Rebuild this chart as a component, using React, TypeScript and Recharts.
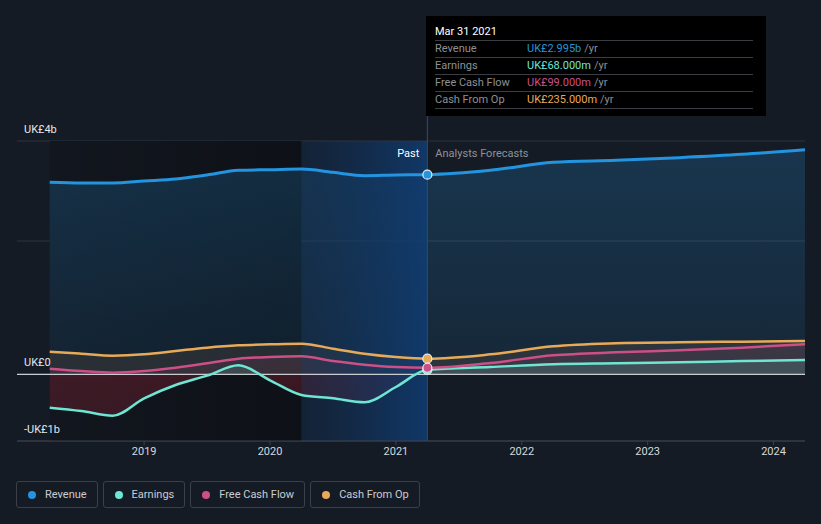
import React from 'react';
import {
  ComposedChart, Area, Line, XAxis, YAxis, CartesianGrid, ReferenceArea, ReferenceLine,
} from 'recharts';

// dates as decimal years, quarterly in the past, forecasts after Mar 2021
const dates = [
  2018.25, 2018.5, 2018.75, 2019, 2019.25, 2019.5, 2019.75, 2020, 2020.25, 2020.5, 2020.75, 2021, 2021.25,
  2021.75, 2022.25, 2022.75, 2023.25, 2023.75, 2024.25,
];
// values in UK£ billions
const revenue = [
  2.88, 2.87, 2.87, 2.9, 2.93, 2.99, 3.06, 3.07, 3.08, 3.03, 2.98, 2.99, 2.995,
  3.06, 3.18, 3.21, 3.25, 3.3, 3.37,
];
const earnings = [
  -0.5, -0.55, -0.62, -0.36, -0.16, -0.02, 0.135, -0.09, -0.31, -0.36, -0.42, -0.19, 0.068,
  0.11, 0.15, 0.165, 0.18, 0.2, 0.215,
];
const freeCashFlow = [
  0.085, 0.05, 0.025, 0.05, 0.1, 0.165, 0.235, 0.26, 0.27, 0.2, 0.145, 0.11, 0.099,
  0.17, 0.285, 0.33, 0.36, 0.4, 0.45,
];
const cashFromOp = [
  0.34, 0.31, 0.28, 0.3, 0.35, 0.4, 0.435, 0.45, 0.46, 0.385, 0.31, 0.26, 0.235,
  0.3, 0.42, 0.465, 0.48, 0.49, 0.5,
];

const xTicks = [2019, 2020, 2021, 2022, 2023, 2024];
const yTicks = [-1, 0, 2, 3.5];
const pastEnd = 2021.25;
const highlightStart = 2020.25;

const series = [
  { key: 'revenue', name: 'Revenue', color: '#2394df' },
  { key: 'earnings', name: 'Earnings', color: '#6ee6d3' },
  { key: 'fcf', name: 'Free Cash Flow', color: '#cc4f88' },
  { key: 'cfo', name: 'Cash From Op', color: '#e8aa58' },
];

const data = dates.map((d, i) => ({
  date: d,
  revenue: revenue[i],
  earnings: earnings[i],
  fcf: freeCashFlow[i],
  cfo: cashFromOp[i],
}));

const FONT = 'Roboto, "Open Sans", sans-serif';

function fmtTooltip(v: number) {
  if (Math.abs(v) >= 1) return `UK£${v.toFixed(3)}b`;
  return `UK£${(v * 1000).toFixed(3)}m`;
}

function fmtAxis(v: number) {
  if (v === 0) return 'UK£0';
  const r = Math.round(v);
  return r < 0 ? `-UK£${-r}b` : `UK£${r}b`;
}

const renderYTick = (props: any) => {
  const { y, payload, index } = props;
  if (payload.value === 2) return <g key={index} />;
  return (
    <text key={index} x={24} y={y - 12} dy={4} fill="#e4e6ea" fontSize={11} fontFamily={FONT}>
      {fmtAxis(payload.value)}
    </text>
  );
};

const makeDot = (color: string) => (props: any) => {
  const { cx, cy, payload, index } = props;
  if (payload.date !== pastEnd) return <g key={index} />;
  return <circle key={index} cx={cx} cy={cy} r={4.5} fill={color} stroke="#e8eef5" strokeWidth={1.2} />;
};

const DividerLabel = (props: any) => {
  const { viewBox } = props;
  const x = viewBox.x;
  return (
    <g>
      <line x1={x} x2={x} y1={16} y2={viewBox.y + viewBox.height} stroke="#1f4f86" strokeWidth={1} />
      <text x={x - 8} y={157} textAnchor="end" fill="#ffffff" fontSize={11} fontFamily={FONT}>Past</text>
      <text x={x + 8} y={157} fill="#8d929a" fontSize={11} fontFamily={FONT}>Analysts Forecasts</text>
    </g>
  );
};

export default function App() {
  const idx = dates.indexOf(pastEnd);
  const tipRows = [
    { label: 'Revenue', value: revenue[idx], color: '#2394df' },
    { label: 'Earnings', value: earnings[idx], color: '#6ee6d3' },
    { label: 'Free Cash Flow', value: freeCashFlow[idx], color: '#cc4f88' },
    { label: 'Cash From Op', value: cashFromOp[idx], color: '#e8aa58' },
  ];

  return (
    <div style={{ position: 'absolute', left: 0, top: 0, width: 821, height: 524, background: '#151b25', fontFamily: FONT }}>
      <ComposedChart width={821} height={524} data={data} margin={{ top: 141, right: 16, bottom: 53, left: 16 }}>
        <defs>
          <linearGradient id="pastBand" x1="0" y1="0" x2="1" y2="0">
            <stop offset="0%" stopColor="#12161e" />
            <stop offset="100%" stopColor="#0e1117" />
          </linearGradient>
          <linearGradient id="hiBand" x1="0" y1="0" x2="1" y2="0">
            <stop offset="0%" stopColor="#123055" stopOpacity={0.35} />
            <stop offset="100%" stopColor="#0f3d74" stopOpacity={0.85} />
          </linearGradient>
          <linearGradient id="revFill" x1="0" y1="0" x2="0" y2="1">
            <stop offset="0%" stopColor="#2394df" stopOpacity={0.22} />
            <stop offset="100%" stopColor="#2394df" stopOpacity={0.1} />
          </linearGradient>
          <linearGradient id="earnFill" gradientUnits="userSpaceOnUse" x1="0" y1="141" x2="0" y2="441">
            <stop offset="0.776" stopColor="#6ee6d3" stopOpacity={0.14} />
            <stop offset="0.776" stopColor="#b0283c" stopOpacity={0.28} />
            <stop offset="1" stopColor="#b0283c" stopOpacity={0.22} />
          </linearGradient>
        </defs>
        <ReferenceArea x1={dates[0]} x2={highlightStart} y1={-1} y2={3.5} fill="url(#pastBand)" fillOpacity={1} stroke="none" />
        <CartesianGrid vertical={false} stroke="#2f3541" />
        <XAxis
          dataKey="date"
          type="number"
          domain={[2017.99, 2024.25]}
          ticks={xTicks}
          allowDataOverflow
          stroke="#3d424c"
          tick={{ fill: '#d6d9de', fontSize: 11, fontFamily: FONT }}
          tickSize={4}
          tickLine={{ stroke: '#3d424c' }}
          height={30}
        />
        <YAxis
          type="number"
          domain={[-1, 3.5]}
          ticks={yTicks}
          width={1}
          axisLine={false}
          tickLine={false}
          tick={renderYTick}
          allowDataOverflow
        />
        <Area dataKey="revenue" type="monotone" stroke="none" fill="url(#revFill)" fillOpacity={1} isAnimationActive={false} />
        <Area dataKey="cfo" type="monotone" stroke="none" fill="#e8aa58" fillOpacity={0.1} isAnimationActive={false} />
        <Area dataKey="fcf" type="monotone" stroke="none" fill="#cc4f88" fillOpacity={0.1} isAnimationActive={false} />
        <Area dataKey="earnings" type="monotone" stroke="none" fill="url(#earnFill)" fillOpacity={1} isAnimationActive={false} />
        <ReferenceArea x1={highlightStart} x2={pastEnd} y1={-1} y2={3.5} fill="url(#hiBand)" fillOpacity={1} stroke="none" />
        <ReferenceLine y={0} stroke="#c9ccd1" strokeWidth={1.2} />
        <Line dataKey="revenue" type="monotone" stroke="#2394df" strokeWidth={3} dot={makeDot('#2394df')} activeDot={false} isAnimationActive={false} />
        <Line dataKey="cfo" type="monotone" stroke="#e8aa58" strokeWidth={2.5} dot={makeDot('#e8aa58')} activeDot={false} isAnimationActive={false} />
        <Line dataKey="earnings" type="monotone" stroke="#6ee6d3" strokeWidth={2.5} dot={makeDot('#6ee6d3')} activeDot={false} isAnimationActive={false} />
        <Line dataKey="fcf" type="monotone" stroke="#cc4f88" strokeWidth={2.5} dot={makeDot('#cc4f88')} activeDot={false} isAnimationActive={false} />
        <ReferenceLine x={pastEnd} stroke="none" label={<DividerLabel />} />
      </ComposedChart>

      <div style={{ position: 'absolute', left: 426, top: 16, width: 340, height: 100, background: '#000000', boxSizing: 'border-box', padding: '7px 9px 0 9px' }}>
        <div style={{ color: '#ffffff', fontSize: 11, height: 17, lineHeight: '17px' }}>Mar 31 2021</div>
        {tipRows.map((r) => (
          <div key={r.label} style={{ display: 'flex', borderTop: '1px solid #3a3d42', height: 16, lineHeight: '16px', fontSize: 11, marginRight: 4 }}>
            <span style={{ width: 92, color: '#8c9097' }}>{r.label}</span>
            <span style={{ color: r.color }}>{fmtTooltip(r.value)}</span>
            <span style={{ color: '#8c9097', marginLeft: 3 }}>/yr</span>
          </div>
        ))}
        <div style={{ borderTop: '1px solid #3a3d42', marginRight: 4 }} />
      </div>

      <div style={{ position: 'absolute', left: 16, top: 481, display: 'flex', gap: 5 }}>
        {series.map((s) => (
          <div key={s.key} style={{ display: 'flex', alignItems: 'center', height: 25, border: '1px solid #3a3f49', borderRadius: 3, padding: '0 10px 0 11px', color: '#c9ccd2', fontSize: 11 }}>
            <span style={{ width: 8, height: 8, borderRadius: '50%', background: s.color, marginRight: 9 }} />
            {s.name}
          </div>
        ))}
      </div>
    </div>
  );
}
